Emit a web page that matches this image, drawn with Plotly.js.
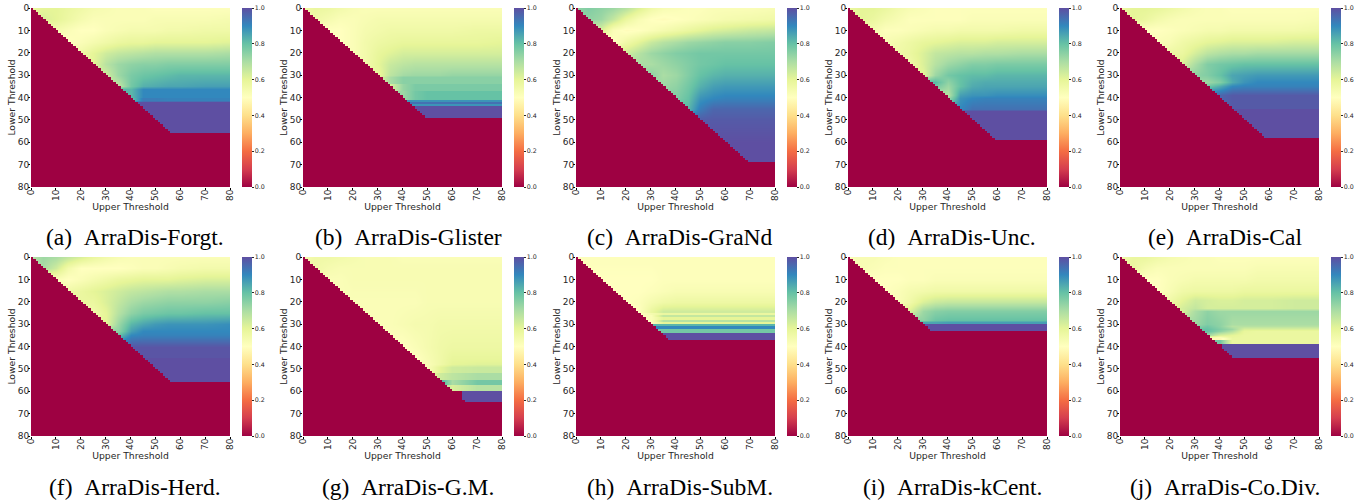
<!DOCTYPE html>
<html><head><meta charset="utf-8">
<script src="https://cdn.plot.ly/plotly-3.0.1.min.js"></script>
<style>html,body{margin:0;padding:0;background:#fff}</style></head>
<body><div id="chart" style="width:1370px;height:504px"></div>
<script>
const uppers=[0,5,10,15,20,25,30,35,40,45,50,55,60,70,80];
const thresholdTicks=[0,10,20,30,40,50,60,70,80];
const barTicks=[0,0.2,0.4,0.6,0.8,1];
const captions=["(a)\u00a0\u00a0ArraDis-Forgt.","(b)\u00a0\u00a0ArraDis-Glister","(c)\u00a0\u00a0ArraDis-GraNd","(d)\u00a0\u00a0ArraDis-Unc.","(e)\u00a0\u00a0ArraDis-Cal","(f)\u00a0\u00a0ArraDis-Herd.","(g)\u00a0\u00a0ArraDis-G.M.","(h)\u00a0\u00a0ArraDis-SubM.","(i)\u00a0\u00a0ArraDis-kCent.","(j)\u00a0\u00a0ArraDis-Co.Div."];
const caps=[56,49,69,59,58,56,65,37,33,45];
const holds=[36,31,999,46,39,40,49,24,29,36];
const extraRed=[[],[],[],[],[],[],[[60,64,64]],[],[],[[38,38,39],[39,41,41],[42,42,42],[43,43,43],[44,44,44]]];

// each row is right-aligned on uppers: its last value belongs to upper = 80
const lowersA=[0,5,10,15,20,25,30,35,36,40,41.5,42,56];
const valuesA=[[.58,.6,.6,.58,.56,.54,.53,.52,.52,.52,.51,.51,.51,.51,.51],[.62,.6,.57,.54,.52,.52,.52,.52,.52,.53,.53,.53,.53,.54],[.54,.52,.5,.5,.52,.53,.54,.54,.54,.55,.55,.56,.56],[.5,.52,.54,.56,.58,.59,.59,.6,.6,.6,.6,.61],[.56,.6,.64,.66,.67,.68,.69,.69,.69,.69,.7],[.6,.68,.72,.74,.75,.75,.76,.76,.76,.76],[.64,.72,.77,.79,.8,.81,.82,.82,.82],[.66,.78,.83,.84,.85,.85,.86,.86],[.82,.9,.9,.9,.9,.9,.9],[.8,.92,.92,.91,.91,.91,.91],[.85,.94,.94,.94,.94,.94,.94],[1,1,1,1,1,1,1],[1,1,1,1,1]];
const lowersB=[0,5,10,15,20,25,30,31,34,37,41,42,43,44,49];
const valuesB=[[.56,.58,.57,.55,.53,.52,.52,.52,.52,.52,.52,.52,.52,.52,.52],[.56,.54,.52,.52,.53,.54,.54,.54,.54,.54,.54,.54,.54,.54],[.5,.5,.52,.54,.55,.56,.56,.56,.56,.56,.56,.57,.57],[.5,.52,.55,.57,.58,.59,.59,.59,.59,.59,.59,.6],[.52,.55,.59,.61,.63,.63,.63,.63,.63,.63,.63],[.55,.6,.65,.67,.68,.68,.68,.68,.68,.68],[.58,.67,.71,.72,.72,.72,.73,.73,.73],[.6,.7,.75,.75,.75,.75,.75,.75,.75],[.62,.73,.77,.77,.77,.77,.77,.77],[.72,.78,.8,.8,.8,.8,.8],[.88,.88,.88,.88,.88,.88],[.94,.94,.94,.94,.94,.94],[.88,.88,.88,.88,.88,.88],[1,1,1,1,1,1],[1,1,1,1,1]];
const lowersC=[0,5,10,15,20,25,30,35,40,45,50,60,69];
const valuesC=[[.74,.76,.74,.72,.68,.62,.56,.53,.52,.51,.51,.52,.52,.52,.53],[.74,.72,.66,.58,.53,.5,.49,.5,.51,.52,.53,.54,.55,.56],[.62,.52,.49,.5,.52,.54,.56,.58,.6,.62,.63,.65,.66],[.5,.56,.6,.65,.68,.7,.72,.73,.74,.75,.75,.76],[.64,.68,.72,.74,.76,.77,.78,.78,.78,.78,.78],[.7,.7,.72,.74,.76,.78,.79,.8,.8,.8],[.74,.7,.72,.76,.8,.82,.83,.83,.83],[.72,.74,.78,.83,.86,.87,.87,.87],[.76,.8,.88,.9,.91,.91,.91],[.82,.92,.96,.96,.96,.96],[.98,.98,.98,.98,.98],[1,1,1],[1,1]];
const lowersD=[0,5,10,15,20,25,30,33,35,39,40,45,46,59];
const valuesD=[[.58,.6,.6,.58,.55,.53,.52,.51,.51,.51,.51,.51,.51,.51,.51],[.6,.58,.55,.53,.51,.51,.51,.51,.51,.52,.52,.52,.52,.52],[.54,.51,.51,.52,.53,.54,.54,.55,.55,.55,.55,.56,.56],[.53,.55,.57,.59,.6,.61,.62,.62,.62,.63,.63,.63],[.56,.58,.62,.66,.67,.68,.68,.69,.69,.7,.7],[.56,.62,.68,.72,.74,.76,.76,.77,.77,.77],[.6,.72,.78,.8,.81,.81,.82,.82,.82],[.82,.74,.8,.83,.84,.84,.84,.84],[.78,.72,.8,.84,.85,.85,.85,.85],[.68,.86,.88,.88,.89,.89,.89],[.72,.88,.9,.91,.91,.91,.91],[.9,.94,.94,.94,.94,.94],[1,1,1,1,1,1],[1,1,1]];
const lowersE=[0,5,10,15,20,25,30,33,35,39,45,58];
const valuesE=[[.57,.6,.6,.59,.57,.55,.53,.52,.52,.51,.51,.51,.51,.51,.51],[.6,.58,.55,.53,.52,.52,.52,.52,.52,.52,.52,.52,.52,.53],[.5,.5,.51,.52,.53,.54,.54,.55,.55,.55,.55,.55,.56],[.52,.53,.56,.58,.6,.61,.62,.62,.62,.62,.63,.63],[.57,.58,.63,.67,.69,.7,.7,.71,.71,.71,.71],[.62,.7,.76,.78,.79,.8,.8,.8,.8,.8],[.74,.76,.8,.85,.86,.87,.87,.87,.87],[.72,.76,.84,.88,.9,.9,.9,.9],[.78,.84,.9,.91,.91,.91,.91,.91],[.96,.98,.98,.98,.98,.98,.98],[1,1,1,1,1,1],[1,1,1]];
const lowersF=[0,5,10,15,20,25,30,33,35,40,45,56];
const valuesF=[[.68,.72,.7,.66,.62,.58,.55,.53,.52,.52,.52,.52,.52,.52,.52],[.7,.64,.55,.5,.5,.5,.5,.51,.52,.52,.53,.54,.55,.55],[.52,.5,.52,.54,.56,.58,.59,.6,.6,.6,.61,.62,.62],[.56,.58,.6,.62,.64,.66,.67,.68,.69,.69,.7,.7],[.58,.58,.62,.66,.7,.72,.73,.74,.74,.74,.75],[.55,.6,.68,.74,.77,.78,.79,.79,.8,.8],[.6,.72,.82,.85,.87,.88,.88,.88,.89],[.74,.86,.9,.9,.9,.9,.9,.9],[.8,.9,.91,.91,.91,.91,.91,.91],[.99,.99,.99,.99,.99,.99,.99],[1,1,1,1,1,1],[1,1,1,1]];
const lowersG=[0,5,10,20,30,40,45,48,49,52,55,57,60,65];
const valuesG=[[.54,.56,.56,.55,.54,.53,.53,.53,.52,.52,.52,.52,.52,.52,.52],[.56,.54,.53,.53,.53,.53,.53,.53,.53,.53,.53,.53,.53,.53],[.52,.52,.53,.53,.53,.53,.53,.53,.53,.53,.53,.53,.53],[.52,.52,.52,.52,.52,.52,.53,.53,.53,.53,.53],[.52,.52,.53,.54,.54,.55,.55,.55,.55],[.5,.52,.54,.56,.57,.57,.57],[.5,.53,.56,.59,.59,.59],[.52,.56,.6,.61,.61],[.52,.6,.64,.65,.65],[.55,.64,.67,.7,.7],[.85,.7,.78,.78],[.7,.62,.68,.68],[1,1,1],[1,1]];
const lowersH=[0,10,15,20,24,25,26,27,28,29,30,31,32,34,37];
const valuesH=[[.51,.51,.51,.51,.51,.51,.51,.51,.51,.51,.51,.51,.51,.51,.51],[.5,.5,.5,.5,.5,.51,.51,.51,.51,.51,.51,.51,.51],[.5,.5,.5,.51,.52,.53,.53,.53,.53,.53,.53,.53],[.5,.51,.54,.56,.57,.57,.57,.57,.57,.57,.57],[.5,.58,.64,.64,.64,.64,.64,.64,.64,.64],[.5,.54,.58,.58,.58,.58,.58,.58,.58,.58],[.52,.66,.66,.66,.66,.66,.66,.66,.66],[.52,.6,.6,.6,.6,.6,.6,.6,.6],[.5,.68,.68,.68,.68,.68,.68,.68,.68],[.5,.6,.6,.6,.6,.6,.6,.6,.6],[.82,.82,.82,.82,.82,.82,.82,.82],[.9,.9,.9,.9,.9,.9,.9,.9],[.78,.78,.78,.78,.78,.78,.78,.78],[1,1,1,1,1,1,1,1],[1,1,1,1,1,1,1]];
const lowersI=[0,5,10,15,20,24,28,29,30,33];
const valuesI=[[.52,.53,.53,.52,.51,.51,.51,.51,.51,.51,.51,.51,.51,.51,.51],[.53,.52,.51,.51,.51,.51,.51,.51,.51,.51,.51,.51,.51,.51],[.5,.5,.5,.51,.51,.52,.52,.52,.52,.52,.52,.52,.52],[.5,.52,.54,.55,.56,.56,.56,.56,.56,.56,.56,.56],[.52,.56,.62,.65,.66,.66,.66,.66,.66,.66,.66],[.62,.72,.75,.76,.76,.76,.76,.76,.76,.76],[.74,.79,.8,.8,.8,.8,.8,.8,.8],[.85,.85,.86,.86,.86,.86,.86,.86,.86],[1,1,1,1,1,1,1,1,1],[1,1,1,1,1,1,1]];
const lowersJ=[0,5,10,15,19,23,24,30,31,32,33,35,36,37,39,45];
const valuesJ=[[.55,.58,.58,.56,.54,.53,.52,.52,.51,.51,.51,.51,.51,.51,.51],[.58,.54,.52,.52,.52,.52,.52,.52,.52,.52,.53,.53,.53,.53],[.5,.5,.52,.53,.54,.54,.54,.54,.54,.55,.55,.55,.55],[.5,.53,.56,.57,.57,.57,.57,.58,.58,.58,.58,.58],[.56,.6,.64,.63,.62,.62,.63,.63,.63,.64,.64],[.58,.63,.66,.63,.63,.63,.63,.63,.63,.64,.64],[.62,.7,.74,.72,.72,.72,.72,.72,.72,.72],[.72,.76,.74,.7,.7,.7,.7,.7,.7],[.74,.78,.74,.68,.68,.68,.68,.68,.68],[.8,.76,.72,.62,.62,.62,.62,.62],[.8,.74,.68,.59,.58,.58,.58,.58],[.72,.62,.6,.58,.58,.58,.58,.58],[.48,.58,.58,.58,.58,.58,.58],[.78,.58,.58,.58,.58,.58,.58],[1,1,1,1,1,1,1],[1,1,1,1,1,1]];
const allLowers=[lowersA,lowersB,lowersC,lowersD,lowersE,lowersF,lowersG,lowersH,lowersI,lowersJ];
const allValues=[valuesA,valuesB,valuesC,valuesD,valuesE,valuesF,valuesG,valuesH,valuesI,valuesJ];

const spectral=[[0,'#9e0142'],[.1,'#d53e4f'],[.2,'#f46d43'],[.3,'#fdae61'],[.4,'#fee08b'],[.5,'#ffffbf'],[.6,'#e6f598'],[.7,'#abdda4'],[.8,'#66c2a5'],[.9,'#3288bd'],[1,'#5e4fa2']];
const W=1370,H=504,M=5;
const fx=px=>(px-M)/(W-2*M), fy=py=>1-(py-M)/(H-2*M);
const plotLeft=[31,303,576,848,1120], plotW=199, barGap=211;
const rowTop=[8,257], plotH=179;
const capCx=[135,408,680,952,1225], capY=[237,487];
const ink='#262626', sans='"DejaVu Sans", sans-serif';

const data=[],layout={width:W,height:H,margin:{l:0,r:0,t:0,b:0},paper_bgcolor:'#fff',plot_bgcolor:'#fff',showlegend:false,annotations:[]};
captions.forEach((cap,p)=>{
  const col=p%5,row=Math.floor(p/5),L=plotLeft[col],T=rowTop[row],id=p===0?'':String(p+1);
  const ys=[],zs=[];
  const lows=allLowers[p],vals=allValues[p];
  lows.forEach((lo,i)=>{
    const r=vals[i],padded=Array(uppers.length-r.length).fill(r[0]).concat(r);
    ys.push(lo);zs.push(padded);
    if(lo>=holds[p]&&i<lows.length-1){ys.push(lows[i+1]-0.02);zs.push(padded);}
  });
  data.push({type:'heatmap',x:uppers,y:ys,z:zs,zmin:0,zmax:1,zsmooth:'best',colorscale:spectral,xaxis:'x'+id,yaxis:'y'+id,hoverinfo:'skip',
    colorbar:{x:fx(L+barGap),xref:'paper',xanchor:'left',xpad:0,ypad:0,y:fy(T),yref:'paper',yanchor:'top',len:plotH,lenmode:'pixels',thickness:10,thicknessmode:'pixels',outlinewidth:0,ticks:'outside',ticklen:2,tickwidth:1,tickcolor:ink,tickvals:barTicks,tickformat:'.1f',tickfont:{size:6.3,family:sans,color:ink}}});
  const cells=[...Array(80).keys()].map(i=>i+0.5);
  const mask=cells.map((_,r)=>cells.map((_,c)=>{
    let red=c<=r||r>=caps[p];
    extraRed[p].forEach(e=>{if(r>=e[0]&&r<=e[1]&&c<e[2])red=true;});
    return red?0:null;
  }));
  data.push({type:'heatmap',x:cells,y:cells,z:mask,zmin:0,zmax:1,colorscale:spectral,showscale:false,xaxis:'x'+id,yaxis:'y'+id,hoverinfo:'skip'});
  const axisBase={range:[0,80],tickvals:thresholdTicks,ticks:'outside',ticklen:2,tickwidth:1,tickcolor:'#000',tickfont:{size:9,family:sans,color:ink},showgrid:false,zeroline:false,showline:false,automargin:true};
  layout['xaxis'+id]=Object.assign({},axisBase,{ticklabelstandoff:-4,domain:[fx(L),fx(L+plotW)],anchor:'y'+id,tickangle:-90,title:{text:'Upper Threshold',font:{size:9.25,family:sans,color:ink},standoff:0}});
  layout['yaxis'+id]=Object.assign({},axisBase,{ticklabelstandoff:-3,domain:[fy(T+plotH),fy(T)],range:[80,0],anchor:'x'+id,tickangle:0,title:{text:'Lower Threshold',font:{size:9.25,family:sans,color:ink},standoff:0}});
  layout.annotations.push({xref:'paper',yref:'paper',x:fx(capCx[col]),y:fy(capY[row]),xanchor:'center',yanchor:'middle',showarrow:false,text:cap,font:{family:'"Liberation Serif",serif',size:23.5,color:'#000'}});
});
Plotly.newPlot('chart',data,layout,{displayModeBar:false,staticPlot:true});
</script></body></html>
